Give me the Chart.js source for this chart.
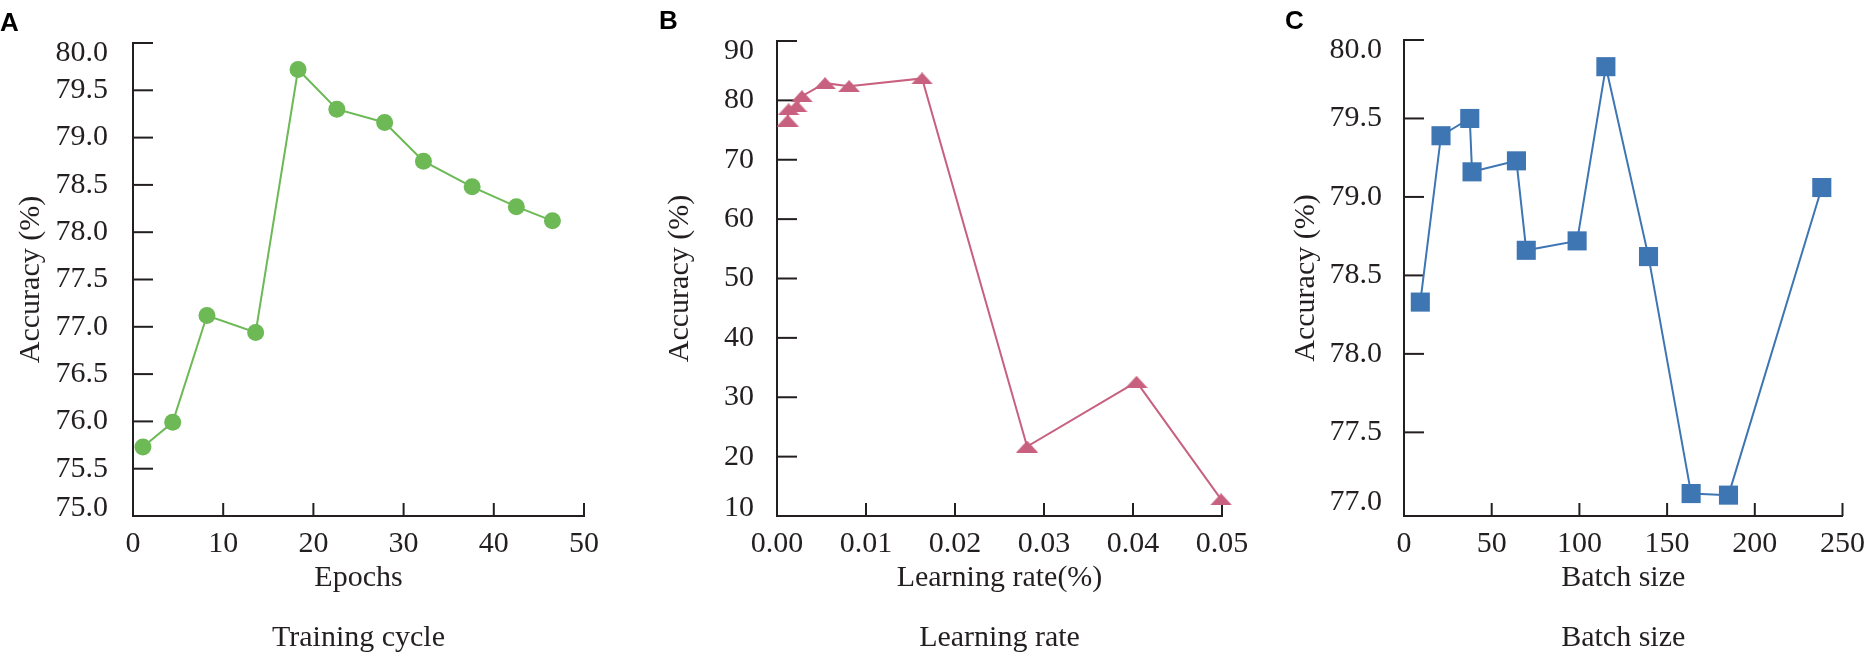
<!DOCTYPE html>
<html><head><meta charset="utf-8">
<script src="https://cdn.jsdelivr.net/npm/chart.js@4.4.1/dist/chart.umd.min.js"></script>
<style>
html,body{margin:0;padding:0;background:#fff;}
#wrap{position:relative;width:1875px;height:654px;overflow:hidden;background:#fff;}
.pane{position:absolute;top:0;height:654px;}
.lbl{position:absolute;font-family:"Liberation Sans",Arial,sans-serif;font-weight:bold;font-size:26px;color:#000;line-height:1;}
</style></head><body>
<div id="wrap">
  <div class="pane" style="left:0px;width:620px"><canvas id="cA" width="620" height="654"></canvas></div>
  <div class="pane" style="left:640px;width:630px"><canvas id="cB" width="630" height="654"></canvas></div>
  <div class="pane" style="left:1260px;width:615px"><canvas id="cC" width="615" height="654"></canvas></div>
  <div class="lbl" style="left:0px;top:9px">A</div>
  <div class="lbl" style="left:659px;top:7px">B</div>
  <div class="lbl" style="left:1285px;top:7px">C</div>
</div>
<script>
// ---------- data ----------
const epochs   = [1.1, 4.4, 8.2, 13.6, 18.3, 22.6, 27.9, 32.2, 37.6, 42.5, 46.5];
const accEpoch = [75.73, 75.99, 77.12, 76.94, 79.72, 79.30, 79.16, 78.75, 78.48, 78.27, 78.12];

const learningRates = [0.0012, 0.0013, 0.0022, 0.0028, 0.0054, 0.0081, 0.0163, 0.0281, 0.0404, 0.0499];
const accLR         = [76.6, 78.5, 79.0, 80.7, 82.9, 82.4, 83.7, 21.7, 32.6, 12.8];

const batchSizes = [9.3, 21.1, 37.5, 38.8, 64.1, 69.7, 98.7, 115.1, 139.4, 163.7, 185.0, 238.2];
const accBatch   = [78.33, 79.39, 79.50, 79.16, 79.23, 78.66, 78.72, 79.83, 78.62, 77.11, 77.10, 79.06];

// tick values and labels
const xTicksA = [0, 10, 20, 30, 40, 50];
const xLabelsA = ['0', '10', '20', '30', '40', '50'];
const yTicksA = [75.0, 75.5, 76.0, 76.5, 77.0, 77.5, 78.0, 78.5, 79.0, 79.5, 80.0];
const yLabelsA = ['75.0', '75.5', '76.0', '76.5', '77.0', '77.5', '78.0', '78.5', '79.0', '79.5', '80.0'];

const xTicksB = [0, 0.01, 0.02, 0.03, 0.04, 0.05];
const xLabelsB = ['0.00', '0.01', '0.02', '0.03', '0.04', '0.05'];
const yTicksB = [10, 20, 30, 40, 50, 60, 70, 80, 90];
const yLabelsB = ['10', '20', '30', '40', '50', '60', '70', '80', '90'];

const xTicksC = [0, 50, 100, 150, 200, 250];
const xLabelsC = ['0', '50', '100', '150', '200', '250'];
const yTicksC = [77.0, 77.5, 78.0, 78.5, 79.0, 79.5, 80.0];
const yLabelsC = ['77.0', '77.5', '78.0', '78.5', '79.0', '79.5', '80.0'];

// ---------- styles ----------
const AXIS = '#231f20';
const FONT = '"Liberation Serif", "Times New Roman", serif';
const FONT_SIZE = 30;
const GREEN = '#6cb956';
const PINK = '#c8607f';
const BLUE = '#3e75b3';

function makeTriangle(color, w, h) {
  const c = document.createElement('canvas');
  c.width = w; c.height = h;
  const g = c.getContext('2d');
  g.fillStyle = color;
  g.beginPath();
  g.moveTo(0, h); g.lineTo(w / 2, 0); g.lineTo(w, h); g.closePath();
  g.fill();
  return c;
}

// tick marks pointing into the plot area
const innerTicks = {
  id: 'innerTicks',
  beforeDatasetsDraw(chart, args, opts) {
    const { ctx, chartArea } = chart;
    const xs = chart.scales.x, ys = chart.scales.y;
    ctx.save();
    ctx.strokeStyle = AXIS;
    ctx.lineWidth = 2;
    ys.ticks.forEach(t => {
      const py = ys.getPixelForValue(t.value);
      if (chartArea.bottom - py < 8) return;
      ctx.beginPath();
      ctx.moveTo(chartArea.left, py);
      ctx.lineTo(chartArea.left + opts.ylen, py);
      ctx.stroke();
    });
    xs.ticks.forEach(t => {
      const px = xs.getPixelForValue(t.value);
      if (px - chartArea.left < 8) return;
      ctx.beginPath();
      ctx.moveTo(px, chartArea.bottom);
      ctx.lineTo(px, chartArea.bottom - opts.xlen);
      ctx.stroke();
    });
    ctx.restore();
  }
};

// first / last y labels are nudged inward, as in the original figure
const endLabels = {
  id: 'endLabels',
  afterDraw(chart, args, opts) {
    const ys = chart.scales.y, ctx = chart.ctx;
    ctx.save();
    ctx.fillStyle = AXIS;
    ctx.font = FONT_SIZE + 'px ' + FONT;
    ctx.textAlign = 'right';
    ctx.textBaseline = 'middle';
    opts.items.forEach(it => {
      ctx.fillText(it.label, chart.chartArea.left - opts.pad, ys.getPixelForValue(it.value) + it.dy);
    });
    ctx.restore();
  }
};

function build(id, cfg) {
  const pts = cfg.xs.map((x, i) => ({ x: x, y: cfg.ys[i] }));
  const nY = cfg.yTicks.length;
  const endVals = [cfg.yTicks[0], cfg.yTicks[nY - 1]];
  return new Chart(document.getElementById(id), {
    type: 'line',
    data: {
      datasets: [{
        data: pts,
        borderColor: cfg.color,
        backgroundColor: cfg.color,
        borderWidth: 2,
        pointStyle: cfg.pointStyle,
        pointRadius: cfg.radius,
        pointHoverRadius: cfg.radius,
        pointBackgroundColor: cfg.color,
        pointBorderWidth: 0,
        tension: 0,
        clip: false
      }]
    },
    options: {
      responsive: false,
      animation: false,
      devicePixelRatio: 1,
      layout: { padding: { top: 20, right: cfg.right, left: 0, bottom: 0 } },
      plugins: {
        legend: { display: false },
        tooltip: { enabled: false },
        innerTicks: { ylen: 20, xlen: 13 },
        endLabels: {
          pad: cfg.yPad,
          items: [
            { value: cfg.yTicks[0], label: cfg.yLabels[0], dy: cfg.bottomDy },
            { value: cfg.yTicks[nY - 1], label: cfg.yLabels[nY - 1], dy: 10 }
          ]
        }
      },
      scales: {
        x: {
          type: 'linear',
          min: cfg.xTicks[0],
          max: cfg.xTicks[cfg.xTicks.length - 1],
          afterBuildTicks: s => { s.ticks = cfg.xTicks.map(v => ({ value: v })); },
          afterFit: s => { s.height = 138; },
          grid: { display: false, drawTicks: false },
          border: { display: true, color: AXIS, width: 2 },
          ticks: {
            padding: 10,
            color: AXIS,
            font: { family: FONT, size: FONT_SIZE },
            maxRotation: 0,
            autoSkip: false,
            callback: (v) => cfg.xLabels[cfg.xTicks.indexOf(v)] ?? ''
          },
          title: {
            display: true,
            text: cfg.xTitle,
            color: AXIS,
            font: { family: FONT, size: FONT_SIZE, lineHeight: 1 },
            padding: { top: 0, bottom: 1 }
          }
        },
        y: {
          type: 'linear',
          min: cfg.yMin,
          max: cfg.yMax,
          afterBuildTicks: s => { s.ticks = cfg.yTicks.map(v => ({ value: v })); },
          afterFit: s => { s.width = cfg.yWidth; },
          grid: { display: false, drawTicks: false },
          border: { display: true, color: AXIS, width: 2 },
          ticks: {
            padding: cfg.yPad,
            color: AXIS,
            font: { family: FONT, size: FONT_SIZE },
            autoSkip: false,
            callback: (v) => endVals.includes(v) ? '' : (cfg.yLabels[cfg.yTicks.indexOf(v)] ?? '')
          },
          title: {
            display: true,
            text: 'Accuracy (%)',
            color: AXIS,
            font: { family: FONT, size: FONT_SIZE, lineHeight: 1 },
            padding: { top: cfg.yTitlePad, bottom: 0 }
          }
        }
      }
    },
    plugins: [innerTicks, endLabels]
  });
}

build('cA', {
  xs: epochs, ys: accEpoch, color: GREEN, pointStyle: 'circle', radius: 8.5,
  xTicks: xTicksA, xLabels: xLabelsA, yTicks: yTicksA, yLabels: yLabelsA,
  yMin: 75.0, yMax: 80.0, yWidth: 133, yPad: 25, yTitlePad: 16, right: 36, bottomDy: -8,
  xTitle: ['Epochs', '', 'Training cycle']
});

build('cB', {
  xs: learningRates, ys: accLR, color: PINK, pointStyle: makeTriangle(PINK, 22, 12), radius: 10,
  xTicks: xTicksB, xLabels: xLabelsB, yTicks: yTicksB, yLabels: yLabelsB,
  yMin: 10, yMax: 90, yWidth: 137, yPad: 23, yTitlePad: 25, right: 48, bottomDy: -8,
  xTitle: ['Learning rate(%)', '', 'Learning rate']
});

build('cC', {
  xs: batchSizes, ys: accBatch, color: BLUE, pointStyle: 'rect', radius: 13.5,
  xTicks: xTicksC, xLabels: xLabelsC, yTicks: yTicksC, yLabels: yLabelsC,
  yMin: 76.967, yMax: 80.0, yWidth: 144, yPad: 22, yTitlePad: 31, right: 25, bottomDy: -9,
  xTitle: ['Batch size', '', 'Batch size']
});
</script>
</body></html>
